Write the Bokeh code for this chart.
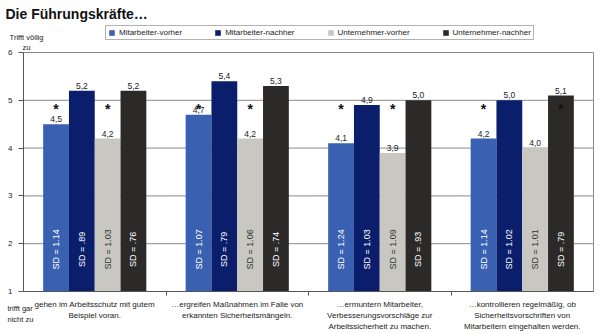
import numpy as np
from bokeh.plotting import figure
from bokeh.models import (ColumnDataSource, Label, Legend, LegendItem,
                          FixedTicker, Range1d, LinearAxis)
from bokeh.transform import dodge
from bokeh.core.properties import value
from bokeh.embed import file_html
from bokeh.resources import INLINE

# ---------------- data ----------------
categories = [
    "gehen im Arbeitsschutz mit gutem\nBeispiel voran.",
    "…ergreifen Maßnahmen im Falle von\nerkannten Sicherheitsmängeln.",
    "…ermuntern Mitarbeiter,\nVerbesserungsvorschläge zur\nArbeitssicherheit zu machen.",
    "…kontrollieren regelmäßig, ob\nSicherheitsvorschriften von\nMitarbeitern eingehalten werden.",
]
series_names = ["Mitarbeiter-vorher", "Mitarbeiter-nachher", "Unternehmer-vorher", "Unternehmer-nachher"]

mitarbeiter_vorher = [4.5, 4.7, 4.1, 4.2]
mitarbeiter_nachher = [5.2, 5.4, 4.9, 5.0]
unternehmer_vorher = [4.2, 4.2, 3.9, 4.0]
unternehmer_nachher = [5.2, 5.3, 5.0, 5.1]

sd_mitarbeiter_vorher = ["1.14", "1.07", "1.24", "1.14"]
sd_mitarbeiter_nachher = [".89", ".79", "1.03", "1.02"]
sd_unternehmer_vorher = ["1.03", "1.06", "1.09", "1.01"]
sd_unternehmer_nachher = [".76", ".74", ".93", ".79"]

# significance markers: (category index, series index)
star_category = [0, 0, 1, 1, 2, 2, 3, 3]
star_series = [0, 2, 0, 2, 0, 2, 0, 3]

y_ticks = [1, 2, 3, 4, 5, 6]

# ---------------- styling ----------------
colors = ["#3A60B2", "#0B1E6C", "#C9C7C1", "#2B2A29"]
sd_text_colors = ["white", "white", "#333333", "white"]
FONT = value("Liberation Sans")
bw = 0.181
n = len(categories)

values_all = [mitarbeiter_vorher, mitarbeiter_nachher, unternehmer_vorher, unternehmer_nachher]
sd_all = [sd_mitarbeiter_vorher, sd_mitarbeiter_nachher, sd_unternehmer_vorher, sd_unternehmer_nachher]

# plot frame covers the whole canvas; axes are pinned inside it
px_per_x = 142.5
px_per_y = 47.8
x_range = Range1d(-23 / px_per_x, n + 7 / px_per_x)
y_range = Range1d(1 - 43 / px_per_y, 6 + 52 / px_per_y)

p = figure(width=600, height=334, output_backend="svg", toolbar_location=None,
           x_range=x_range, y_range=y_range, x_axis_type=None, y_axis_type=None,
           min_border=0, min_border_left=0, min_border_right=0,
           min_border_top=0, min_border_bottom=0)
p.background_fill_color = "white"
p.border_fill_color = "white"
p.outline_line_color = None
p.grid.visible = False

yaxis = LinearAxis(fixed_location=0, bounds=(1, 6), ticker=FixedTicker(ticks=y_ticks))
yaxis.minor_tick_line_color = None
yaxis.major_tick_in = 0
yaxis.major_tick_out = 5
yaxis.axis_line_color = "#555555"
yaxis.major_tick_line_color = "#555555"
yaxis.major_label_text_font = "Liberation Sans"
yaxis.major_label_text_font_size = "8px"
yaxis.major_label_text_color = "#222222"
yaxis.major_label_standoff = 6
p.add_layout(yaxis, "left")

xaxis = LinearAxis(fixed_location=1, bounds=(0, n), ticker=FixedTicker(ticks=list(range(1, n))))
xaxis.major_label_overrides = {i: "" for i in range(1, n)}
xaxis.major_tick_in = 0
xaxis.major_tick_out = 4
xaxis.minor_tick_line_color = None
xaxis.axis_line_color = "#555555"
xaxis.major_tick_line_color = "#555555"
p.add_layout(xaxis, "below")

# horizontal grid lines (the one at 6 forms the top border) and right border
grid_y = y_ticks[1:]
p.segment(x0=[0] * len(grid_y), x1=[n] * len(grid_y), y0=grid_y, y1=grid_y,
          line_color="#8a8a8a", line_width=1, level="underlay")
p.segment(x0=[n], x1=[n], y0=[y_ticks[0]], y1=[y_ticks[-1]],
          line_color="#8a8a8a", line_width=1, level="underlay")

xc = np.arange(n) + 0.5
items = []
for i, (name, vals, sds) in enumerate(zip(series_names, values_all, sd_all)):
    off = (i - 1.5) * bw
    src = ColumnDataSource(dict(
        x=xc, top=vals,
        lab=[f"{v:.1f}".replace(".", ",") for v in vals],
        sd=[f"SD = {s}" for s in sds],
    ))
    r = p.vbar(x=dodge("x", off), top="top", bottom=1, width=bw, source=src,
               fill_color=colors[i], line_color=None)
    items.append(LegendItem(label=name, renderers=[r]))
    p.text(x=dodge("x", off), y="top", text="lab", source=src, text_align="center",
           text_baseline="bottom", y_offset=-2, text_font=FONT, text_font_size="8.5px",
           text_color="#222222")
    p.text(x=dodge("x", off), y=1.88, text="sd", source=src, angle=np.pi / 2,
           text_align="center", text_baseline="middle", text_font=FONT,
           text_font_size="9px", text_color=sd_text_colors[i])

star_x = np.array(star_category) + 0.5 + (np.array(star_series) - 1.5) * bw
p.text(x=star_x, y=[4.82] * len(star_x), text=["*"] * len(star_x), text_align="center",
       text_baseline="middle", text_font=FONT, text_font_size="14px",
       text_font_style="bold", text_color="#111111")

legend = Legend(items=items, orientation="horizontal", location=(105, 294),
                margin=0, padding=2, spacing=32, label_standoff=4,
                glyph_width=7, glyph_height=7, label_height=8,
                label_text_font="Liberation Sans", label_text_font_size="8px",
                label_text_color="#222222", border_line_color="#666666",
                background_fill_color="white", background_fill_alpha=1)
p.add_layout(legend)

cat_src = ColumnDataSource(dict(x=xc, y=[1] * n, text=categories))
p.text(x="x", y="y", text="text", source=cat_src, y_offset=8,
       text_align="center", text_baseline="top", text_font=FONT,
       text_font_size="8px", text_color="#222222", text_line_height=1.25)

p.add_layout(Label(x=5, y=329, x_units="screen", y_units="screen",
                   text="Die Führungskräfte…", text_font="Liberation Sans",
                   text_font_size="14px", text_font_style="bold",
                   text_baseline="top", text_align="left", text_color="#111111"))
p.add_layout(Label(x=26, y=302, x_units="screen", y_units="screen",
                   text="Trifft völlig\nzu", text_font="Liberation Sans",
                   text_font_size="7.5px", text_baseline="top", text_align="center",
                   text_color="#222222", text_line_height=1.15))
p.add_layout(Label(x=7, y=31, x_units="screen", y_units="screen",
                   text="trifft gar\nnicht zu", text_font="Liberation Sans",
                   text_font_size="7.5px", text_baseline="top", text_align="left",
                   text_color="#222222", text_line_height=1.3))

open("out.html", "w").write(file_html(p, INLINE))
